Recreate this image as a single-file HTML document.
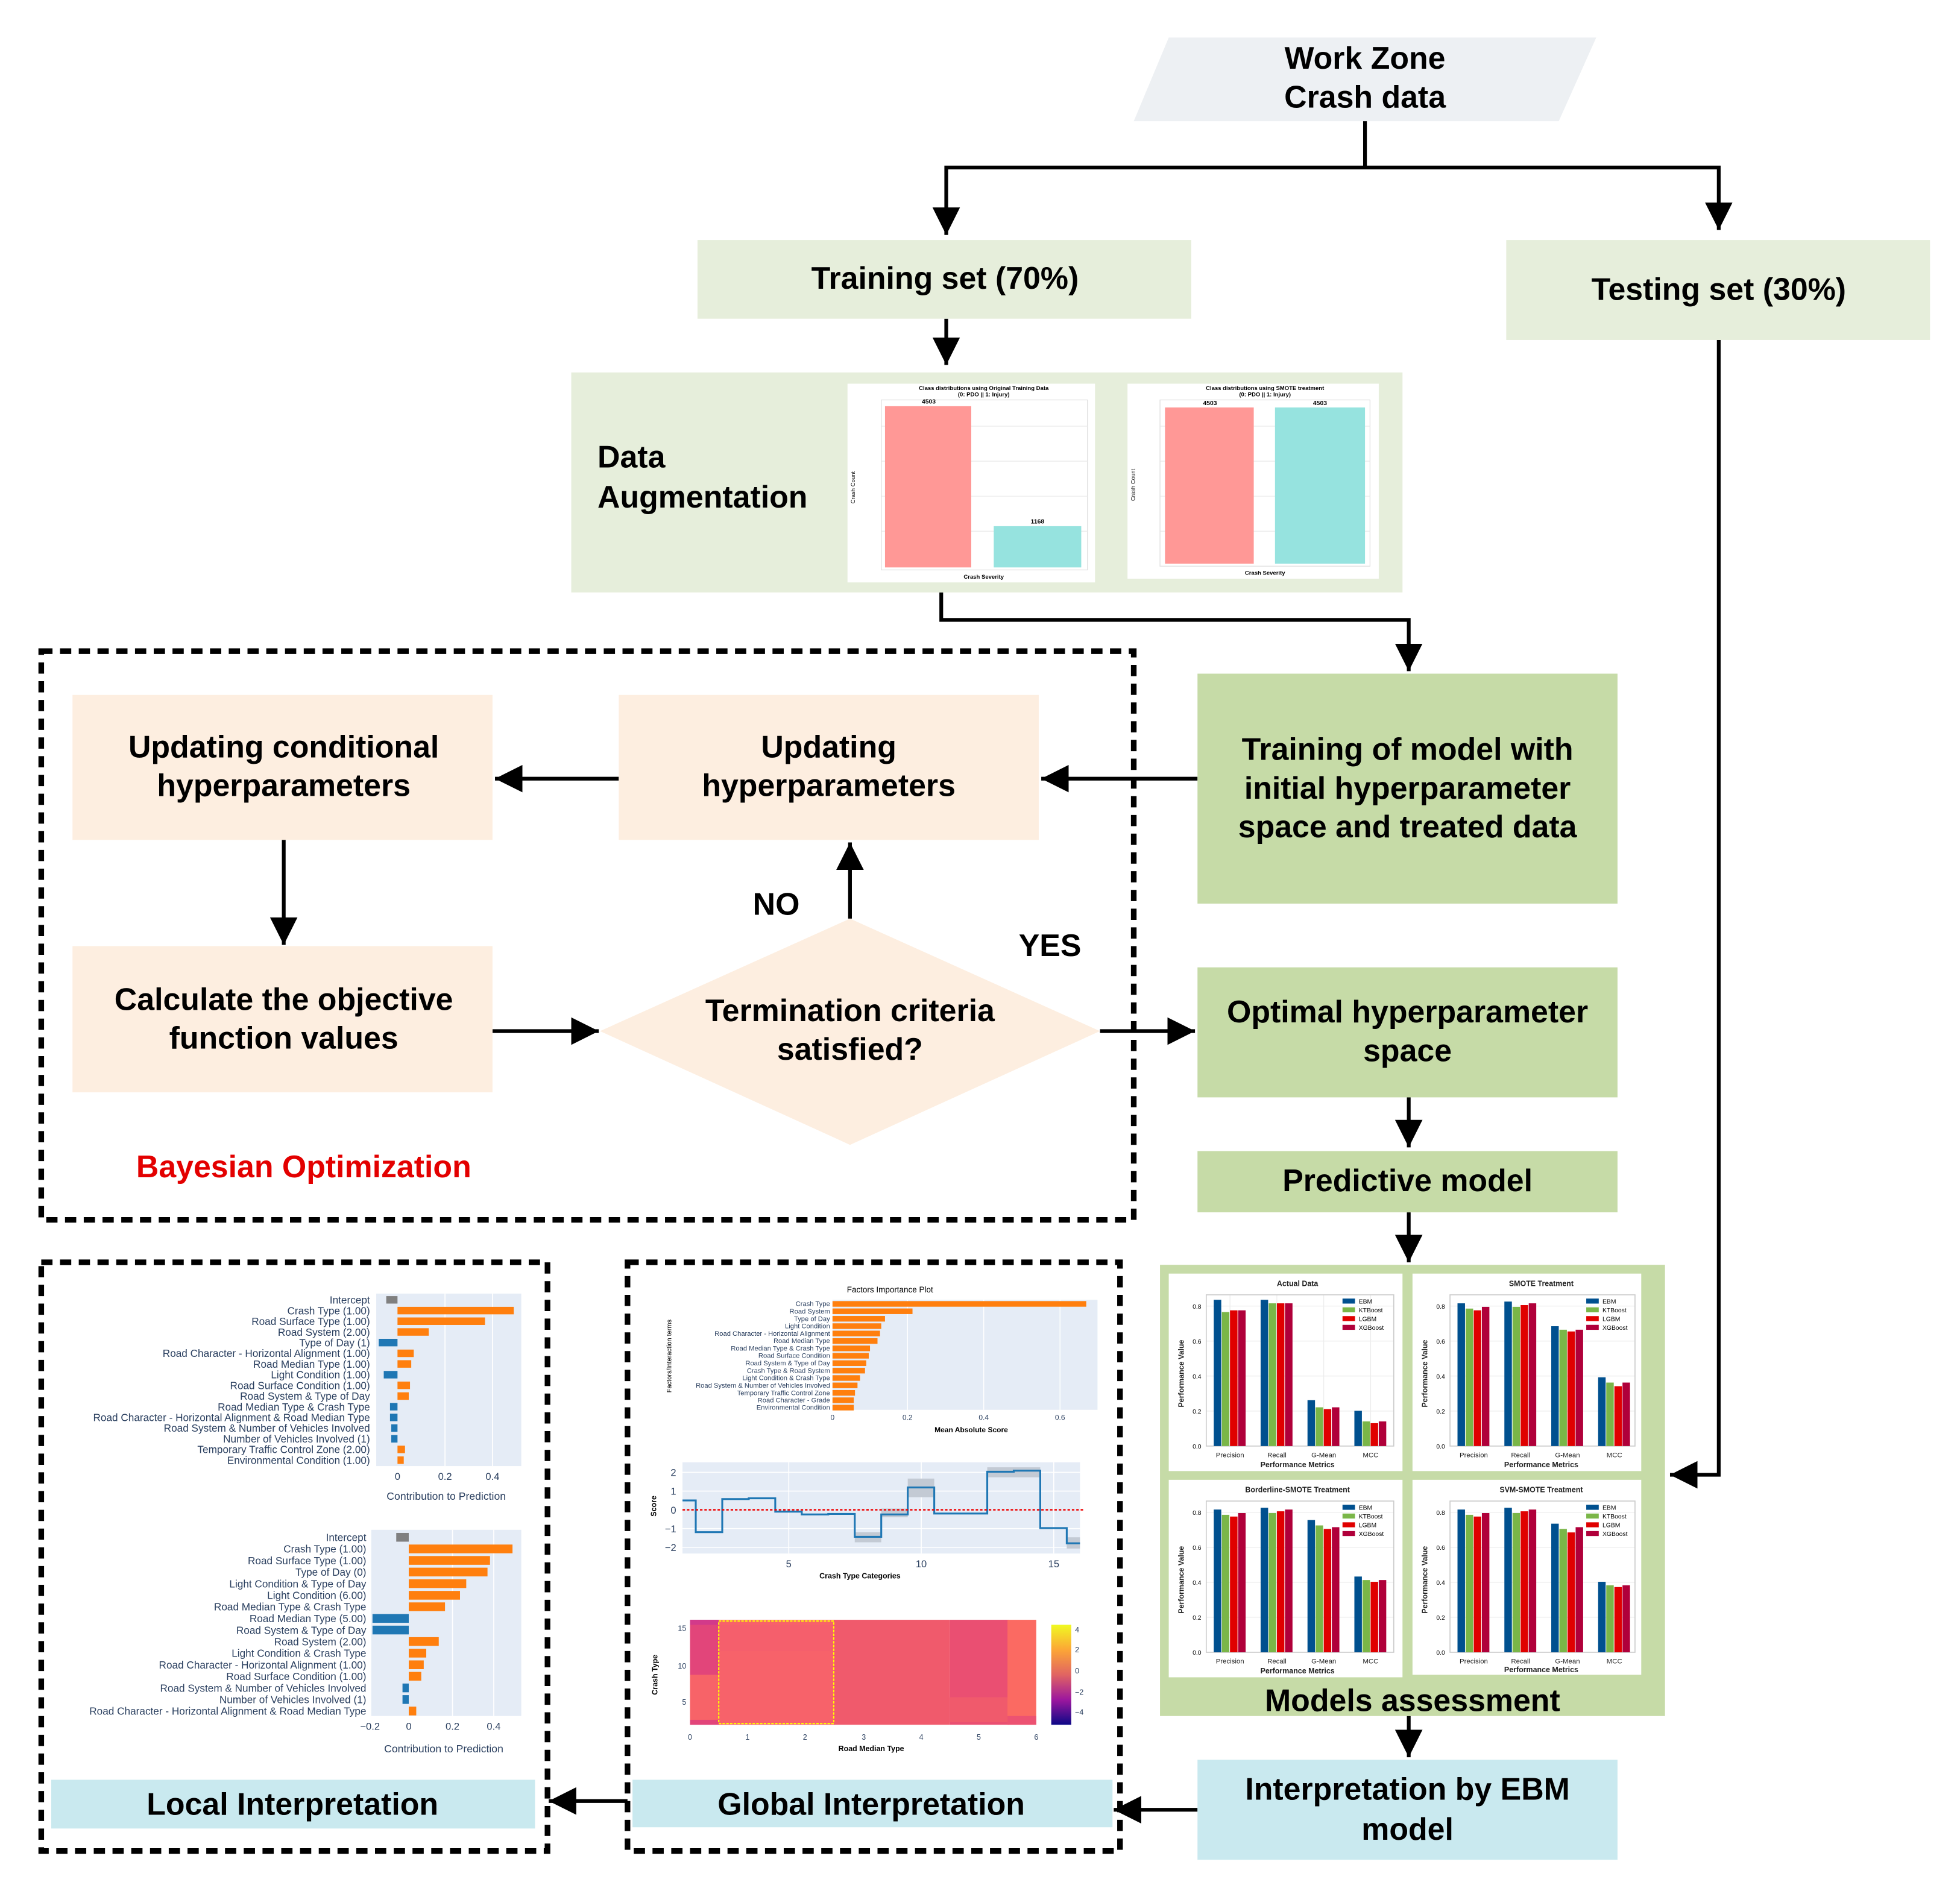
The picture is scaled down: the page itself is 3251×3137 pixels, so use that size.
<!DOCTYPE html>
<html><head><meta charset="utf-8"><style>
html,body{margin:0;padding:0;background:#fff}
svg{display:block}
text{font-family:"Liberation Sans",Arial,sans-serif}
.b{font-weight:bold;fill:#000}
.t{font-size:25px;font-weight:bold;text-anchor:middle;fill:#000}
.lb{font-size:8.3px;fill:#2a3f5f;text-anchor:end}
.gl{font-size:5.4px;fill:#2a3f5f;text-anchor:end}
.ax{font-size:8px;fill:#2a3f5f;text-anchor:middle}
.ct{font-size:5.5px;fill:#222;text-anchor:middle}
</style></head><body>
<svg width="3251" height="3137" viewBox="0 0 1568 1513" preserveAspectRatio="none" xmlns="http://www.w3.org/2000/svg">
<defs>
<marker id="ah" markerUnits="userSpaceOnUse" markerWidth="24" markerHeight="24" refX="22" refY="11" orient="auto">
<path d="M0,0 L22,11 L0,22 Z" fill="#000"/></marker>
<linearGradient id="pl" x1="0" y1="0" x2="0" y2="1">
<stop offset="0" stop-color="#f0f921"/><stop offset="0.25" stop-color="#fca636"/><stop offset="0.5" stop-color="#e16462"/><stop offset="0.75" stop-color="#9c179e"/><stop offset="1" stop-color="#0d0887"/></linearGradient>
</defs>
<rect width="1568" height="1513" fill="#fff"/>

<polygon points="935,30 1277,30 1247,97 907,97" fill="#edf0f3"/>
<text x="1092" y="55" class="t">Work Zone</text>
<text x="1092" y="86" class="t">Crash data</text>

<g stroke="#000" stroke-width="3" fill="none">
<path d="M1092,97 V134 H757 V188" marker-end="url(#ah)"/>
<path d="M1092,134 H1375 V184" marker-end="url(#ah)"/>
<path d="M757,255 V292" marker-end="url(#ah)"/>
<path d="M753,474 V496 H1127 V537" marker-end="url(#ah)"/>
<path d="M1375,272 V1180 H1336" marker-end="url(#ah)"/>
<path d="M958,623 H833" marker-end="url(#ah)"/>
<path d="M495,623 H396" marker-end="url(#ah)"/>
<path d="M227,672 V756" marker-end="url(#ah)"/>
<path d="M394,825 H479" marker-end="url(#ah)"/>
<path d="M680,735 V674" marker-end="url(#ah)"/>
<path d="M880,825 H956" marker-end="url(#ah)"/>
<path d="M1127,878 V918" marker-end="url(#ah)"/>
<path d="M1127,970 V1010" marker-end="url(#ah)"/>
<path d="M1127,1373 V1406" marker-end="url(#ah)"/>
<path d="M958,1448 H891" marker-end="url(#ah)"/>
<path d="M502,1441 H439" marker-end="url(#ah)"/>
</g>

<rect x="558" y="192" width="395" height="63" fill="#e6eedb"/>
<text x="756" y="231" class="t">Training set (70%)</text>
<rect x="1205" y="192" width="339" height="80" fill="#e6eedb"/>
<text x="1375" y="240" class="t">Testing set (30%)</text>

<rect x="457" y="298" width="665" height="176" fill="#e6eedb"/>
<text x="478" y="374" class="b" style="font-size:25px">Data</text>
<text x="478" y="406" class="b" style="font-size:25px">Augmentation</text>
<rect x="678" y="307" width="198" height="159" fill="#fff"/>
<text x="787" y="312" style="font-size:4.6px;font-weight:bold" text-anchor="middle">Class distributions using Original Training Data</text>
<text x="787" y="317" style="font-size:4.6px;font-weight:bold" text-anchor="middle">(0: PDO || 1: Injury)</text>
<rect x="705" y="320" width="165" height="136" fill="none" stroke="#ddd" stroke-width="0.6"/>
<g stroke="#e6e6e6" stroke-width="0.5"><line x1="705" y1="341" x2="870" y2="341"/><line x1="705" y1="369" x2="870" y2="369"/><line x1="705" y1="397" x2="870" y2="397"/><line x1="705" y1="425" x2="870" y2="425"/></g>
<rect x="708" y="325" width="69" height="129" fill="#ff9896"/>
<rect x="795" y="421" width="70" height="33" fill="#96e3df"/>
<text x="743" y="323" style="font-size:5px;font-weight:bold" text-anchor="middle">4503</text>
<text x="830" y="419" style="font-size:5px;font-weight:bold" text-anchor="middle">1168</text>
<text x="787" y="463" style="font-size:4.6px;font-weight:bold" text-anchor="middle">Crash Severity</text>
<text x="684" y="390" style="font-size:4.6px" transform="rotate(-90 684 390)" text-anchor="middle">Crash Count</text>

<rect x="902" y="307" width="201" height="156" fill="#fff"/>
<text x="1012" y="312" style="font-size:4.6px;font-weight:bold" text-anchor="middle">Class distributions using SMOTE treatment</text>
<text x="1012" y="317" style="font-size:4.6px;font-weight:bold" text-anchor="middle">(0: PDO || 1: Injury)</text>
<rect x="928" y="320" width="168" height="133" fill="none" stroke="#ddd" stroke-width="0.6"/>
<g stroke="#e6e6e6" stroke-width="0.5"><line x1="928" y1="341" x2="1096" y2="341"/><line x1="928" y1="369" x2="1096" y2="369"/><line x1="928" y1="397" x2="1096" y2="397"/><line x1="928" y1="425" x2="1096" y2="425"/></g>
<rect x="932" y="326" width="71" height="125" fill="#ff9896"/>
<rect x="1020" y="326" width="72" height="125" fill="#96e3df"/>
<text x="968" y="324" style="font-size:5px;font-weight:bold" text-anchor="middle">4503</text>
<text x="1056" y="324" style="font-size:5px;font-weight:bold" text-anchor="middle">4503</text>
<text x="1012" y="460" style="font-size:4.6px;font-weight:bold" text-anchor="middle">Crash Severity</text>
<text x="908" y="388" style="font-size:4.6px" transform="rotate(-90 908 388)" text-anchor="middle">Crash Count</text>

<rect x="33" y="521" width="874" height="455" fill="none" stroke="#000" stroke-width="4.5" stroke-dasharray="9,6"/>
<rect x="58" y="556" width="336" height="116" fill="#fdeee0"/>
<text x="227" y="606" class="t">Updating conditional</text>
<text x="227" y="637" class="t">hyperparameters</text>
<rect x="495" y="556" width="336" height="116" fill="#fdeee0"/>
<text x="663" y="606" class="t">Updating</text>
<text x="663" y="637" class="t">hyperparameters</text>
<rect x="58" y="757" width="336" height="117" fill="#fdeee0"/>
<text x="227" y="808" class="t">Calculate the objective</text>
<text x="227" y="839" class="t">function values</text>
<polygon points="680,735 880,825 680,916 480,825" fill="#fdeee0"/>
<text x="680" y="817" class="t">Termination criteria</text>
<text x="680" y="848" class="t">satisfied?</text>
<text x="621" y="732" class="t">NO</text>
<text x="840" y="765" class="t">YES</text>
<text x="243" y="942" class="t" style="fill:#e30000">Bayesian Optimization</text>

<rect x="958" y="539" width="336" height="184" fill="#c6dba7"/>
<text x="1126" y="608" class="t">Training of model with</text>
<text x="1126" y="639" class="t">initial hyperparameter</text>
<text x="1126" y="670" class="t">space and treated data</text>
<rect x="958" y="774" width="336" height="104" fill="#c6dba7"/>
<text x="1126" y="818" class="t">Optimal hyperparameter</text>
<text x="1126" y="849" class="t">space</text>
<rect x="958" y="921" width="336" height="49" fill="#c6dba7"/>
<text x="1126" y="953" class="t">Predictive model</text>

<rect x="928" y="1012" width="404" height="361" fill="#c6dba7"/>
<text x="1130" y="1369" class="t">Models assessment</text>

<g transform="translate(935,1019)">
<rect width="187" height="158" fill="#fff"/>
<text x="103" y="10" class="ct" style="font-weight:bold;font-size:6px">Actual Data</text>
<g stroke="#ececec" stroke-width="0.6"><line x1="30" y1="110" x2="180" y2="110"/><line x1="30" y1="82" x2="180" y2="82"/><line x1="30" y1="54" x2="180" y2="54"/><line x1="30" y1="26" x2="180" y2="26"/><line x1="49" y1="17" x2="49" y2="138"/><line x1="86.5" y1="17" x2="86.5" y2="138"/><line x1="124" y1="17" x2="124" y2="138"/><line x1="161.5" y1="17" x2="161.5" y2="138"/></g>
<rect x="30" y="17" width="150" height="121" fill="none" stroke="#ccc" stroke-width="0.8"/>
<rect x="36" y="21" width="6" height="117" fill="#00508f"/><rect x="42.5" y="30.8" width="6" height="107.2" fill="#7ab648"/><rect x="49" y="29.4" width="6" height="108.6" fill="#e00000"/><rect x="55.5" y="29.4" width="6" height="108.6" fill="#b0003a"/>
<rect x="73.5" y="21" width="6" height="117" fill="#00508f"/><rect x="80" y="23.8" width="6" height="114.2" fill="#7ab648"/><rect x="86.5" y="23.8" width="6" height="114.2" fill="#e00000"/><rect x="93" y="23.8" width="6" height="114.2" fill="#b0003a"/>
<rect x="111" y="101.3" width="6" height="36.7" fill="#00508f"/><rect x="117.5" y="107" width="6" height="31" fill="#7ab648"/><rect x="124" y="108.4" width="6" height="29.6" fill="#e00000"/><rect x="130.5" y="107" width="6" height="31" fill="#b0003a"/>
<rect x="148.5" y="109.8" width="6" height="28.2" fill="#00508f"/><rect x="155" y="118.3" width="6" height="19.7" fill="#7ab648"/><rect x="161.5" y="119.7" width="6" height="18.3" fill="#e00000"/><rect x="168" y="118.3" width="6" height="19.7" fill="#b0003a"/>
<rect x="139" y="20" width="10" height="4" fill="#00508f"/><rect x="139" y="27" width="10" height="4" fill="#7ab648"/><rect x="139" y="34" width="10" height="4" fill="#e00000"/><rect x="139" y="41" width="10" height="4" fill="#b0003a"/>
<text x="152" y="24" style="font-size:5px">EBM</text><text x="152" y="31" style="font-size:5px">KTBoost</text><text x="152" y="38" style="font-size:5px">LGBM</text><text x="152" y="45" style="font-size:5px">XGBoost</text>
<g style="font-size:5px" text-anchor="end"><text x="26" y="140">0.0</text><text x="26" y="112">0.2</text><text x="26" y="84">0.4</text><text x="26" y="56">0.6</text><text x="26" y="28">0.8</text></g>
<g class="ct"><text x="49" y="147">Precision</text><text x="86.5" y="147">Recall</text><text x="124" y="147">G-Mean</text><text x="161.5" y="147">MCC</text></g>
<text x="103" y="155" class="ct" style="font-weight:bold;font-size:6px">Performance Metrics</text>
<text x="12" y="80" class="ct" style="font-weight:bold;font-size:6px" transform="rotate(-90 12 80)">Performance Value</text>
</g>

<g transform="translate(1130,1019)">
<rect width="183" height="158" fill="#fff"/>
<text x="103" y="10" class="ct" style="font-weight:bold;font-size:6px">SMOTE Treatment</text>
<g stroke="#ececec" stroke-width="0.6"><line x1="30" y1="110" x2="178" y2="110"/><line x1="30" y1="82" x2="178" y2="82"/><line x1="30" y1="54" x2="178" y2="54"/><line x1="30" y1="26" x2="178" y2="26"/></g>
<rect x="30" y="17" width="148" height="121" fill="none" stroke="#ccc" stroke-width="0.8"/>
<rect x="36" y="23.8" width="6" height="114.2" fill="#00508f"/><rect x="42.5" y="28" width="6" height="110" fill="#7ab648"/><rect x="49" y="29.4" width="6" height="108.6" fill="#e00000"/><rect x="55.5" y="26.6" width="6" height="111.4" fill="#b0003a"/>
<rect x="73.5" y="22.4" width="6" height="115.6" fill="#00508f"/><rect x="80" y="26.6" width="6" height="111.4" fill="#7ab648"/><rect x="86.5" y="25.2" width="6" height="112.8" fill="#e00000"/><rect x="93" y="23.8" width="6" height="114.2" fill="#b0003a"/>
<rect x="111" y="42.1" width="6" height="95.9" fill="#00508f"/><rect x="117.5" y="44.9" width="6" height="93.1" fill="#7ab648"/><rect x="124" y="46.3" width="6" height="91.7" fill="#e00000"/><rect x="130.5" y="44.9" width="6" height="93.1" fill="#b0003a"/>
<rect x="148.5" y="83" width="6" height="55" fill="#00508f"/><rect x="155" y="87.2" width="6" height="50.8" fill="#7ab648"/><rect x="161.5" y="90.1" width="6" height="47.9" fill="#e00000"/><rect x="168" y="87.2" width="6" height="50.8" fill="#b0003a"/>
<rect x="139" y="20" width="10" height="4" fill="#00508f"/><rect x="139" y="27" width="10" height="4" fill="#7ab648"/><rect x="139" y="34" width="10" height="4" fill="#e00000"/><rect x="139" y="41" width="10" height="4" fill="#b0003a"/>
<text x="152" y="24" style="font-size:5px">EBM</text><text x="152" y="31" style="font-size:5px">KTBoost</text><text x="152" y="38" style="font-size:5px">LGBM</text><text x="152" y="45" style="font-size:5px">XGBoost</text>
<g style="font-size:5px" text-anchor="end"><text x="26" y="140">0.0</text><text x="26" y="112">0.2</text><text x="26" y="84">0.4</text><text x="26" y="56">0.6</text><text x="26" y="28">0.8</text></g>
<g class="ct"><text x="49" y="147">Precision</text><text x="86.5" y="147">Recall</text><text x="124" y="147">G-Mean</text><text x="161.5" y="147">MCC</text></g>
<text x="103" y="155" class="ct" style="font-weight:bold;font-size:6px">Performance Metrics</text>
<text x="12" y="80" class="ct" style="font-weight:bold;font-size:6px" transform="rotate(-90 12 80)">Performance Value</text>
</g>

<g transform="translate(935,1184)">
<rect width="187" height="158" fill="#fff"/>
<text x="103" y="10" class="ct" style="font-weight:bold;font-size:6px">Borderline-SMOTE Treatment</text>
<g stroke="#ececec" stroke-width="0.6"><line x1="30" y1="110" x2="180" y2="110"/><line x1="30" y1="82" x2="180" y2="82"/><line x1="30" y1="54" x2="180" y2="54"/><line x1="30" y1="26" x2="180" y2="26"/></g>
<rect x="30" y="17" width="150" height="121" fill="none" stroke="#ccc" stroke-width="0.8"/>
<rect x="36" y="23.8" width="6" height="114.2" fill="#00508f"/><rect x="42.5" y="28" width="6" height="110" fill="#7ab648"/><rect x="49" y="29.4" width="6" height="108.6" fill="#e00000"/><rect x="55.5" y="26.6" width="6" height="111.4" fill="#b0003a"/>
<rect x="73.5" y="22.4" width="6" height="115.6" fill="#00508f"/><rect x="80" y="26.6" width="6" height="111.4" fill="#7ab648"/><rect x="86.5" y="25.2" width="6" height="112.8" fill="#e00000"/><rect x="93" y="23.8" width="6" height="114.2" fill="#b0003a"/>
<rect x="111" y="32.2" width="6" height="105.8" fill="#00508f"/><rect x="117.5" y="36.5" width="6" height="101.5" fill="#7ab648"/><rect x="124" y="39.3" width="6" height="98.7" fill="#e00000"/><rect x="130.5" y="37.9" width="6" height="100.1" fill="#b0003a"/>
<rect x="148.5" y="77.4" width="6" height="60.6" fill="#00508f"/><rect x="155" y="80.2" width="6" height="57.8" fill="#7ab648"/><rect x="161.5" y="81.6" width="6" height="56.4" fill="#e00000"/><rect x="168" y="80.2" width="6" height="57.8" fill="#b0003a"/>
<rect x="139" y="20" width="10" height="4" fill="#00508f"/><rect x="139" y="27" width="10" height="4" fill="#7ab648"/><rect x="139" y="34" width="10" height="4" fill="#e00000"/><rect x="139" y="41" width="10" height="4" fill="#b0003a"/>
<text x="152" y="24" style="font-size:5px">EBM</text><text x="152" y="31" style="font-size:5px">KTBoost</text><text x="152" y="38" style="font-size:5px">LGBM</text><text x="152" y="45" style="font-size:5px">XGBoost</text>
<g style="font-size:5px" text-anchor="end"><text x="26" y="140">0.0</text><text x="26" y="112">0.2</text><text x="26" y="84">0.4</text><text x="26" y="56">0.6</text><text x="26" y="28">0.8</text></g>
<g class="ct"><text x="49" y="147">Precision</text><text x="86.5" y="147">Recall</text><text x="124" y="147">G-Mean</text><text x="161.5" y="147">MCC</text></g>
<text x="103" y="155" class="ct" style="font-weight:bold;font-size:6px">Performance Metrics</text>
<text x="12" y="80" class="ct" style="font-weight:bold;font-size:6px" transform="rotate(-90 12 80)">Performance Value</text>
</g>

<g transform="translate(1130,1184)">
<rect width="183" height="156" fill="#fff"/>
<text x="103" y="10" class="ct" style="font-weight:bold;font-size:6px">SVM-SMOTE Treatment</text>
<g stroke="#ececec" stroke-width="0.6"><line x1="30" y1="110" x2="178" y2="110"/><line x1="30" y1="82" x2="178" y2="82"/><line x1="30" y1="54" x2="178" y2="54"/><line x1="30" y1="26" x2="178" y2="26"/></g>
<rect x="30" y="17" width="148" height="121" fill="none" stroke="#ccc" stroke-width="0.8"/>
<rect x="36" y="23.8" width="6" height="114.2" fill="#00508f"/><rect x="42.5" y="28" width="6" height="110" fill="#7ab648"/><rect x="49" y="29.4" width="6" height="108.6" fill="#e00000"/><rect x="55.5" y="26.6" width="6" height="111.4" fill="#b0003a"/>
<rect x="73.5" y="22.4" width="6" height="115.6" fill="#00508f"/><rect x="80" y="26.6" width="6" height="111.4" fill="#7ab648"/><rect x="86.5" y="25.2" width="6" height="112.8" fill="#e00000"/><rect x="93" y="23.8" width="6" height="114.2" fill="#b0003a"/>
<rect x="111" y="35.1" width="6" height="102.9" fill="#00508f"/><rect x="117.5" y="39.3" width="6" height="98.7" fill="#7ab648"/><rect x="124" y="42.1" width="6" height="95.9" fill="#e00000"/><rect x="130.5" y="37.9" width="6" height="100.1" fill="#b0003a"/>
<rect x="148.5" y="81.6" width="6" height="56.4" fill="#00508f"/><rect x="155" y="84.4" width="6" height="53.6" fill="#7ab648"/><rect x="161.5" y="85.8" width="6" height="52.2" fill="#e00000"/><rect x="168" y="84.4" width="6" height="53.6" fill="#b0003a"/>
<rect x="139" y="20" width="10" height="4" fill="#00508f"/><rect x="139" y="27" width="10" height="4" fill="#7ab648"/><rect x="139" y="34" width="10" height="4" fill="#e00000"/><rect x="139" y="41" width="10" height="4" fill="#b0003a"/>
<text x="152" y="24" style="font-size:5px">EBM</text><text x="152" y="31" style="font-size:5px">KTBoost</text><text x="152" y="38" style="font-size:5px">LGBM</text><text x="152" y="45" style="font-size:5px">XGBoost</text>
<g style="font-size:5px" text-anchor="end"><text x="26" y="140">0.0</text><text x="26" y="112">0.2</text><text x="26" y="84">0.4</text><text x="26" y="56">0.6</text><text x="26" y="28">0.8</text></g>
<g class="ct"><text x="49" y="147">Precision</text><text x="86.5" y="147">Recall</text><text x="124" y="147">G-Mean</text><text x="161.5" y="147">MCC</text></g>
<text x="103" y="154" class="ct" style="font-weight:bold;font-size:6px">Performance Metrics</text>
<text x="12" y="80" class="ct" style="font-weight:bold;font-size:6px" transform="rotate(-90 12 80)">Performance Value</text>
</g>

<rect x="958" y="1408" width="336" height="80" fill="#c9e9ef"/>
<text x="1126" y="1440" class="t">Interpretation by EBM</text>
<text x="1126" y="1472" class="t">model</text>

<rect x="33" y="1010" width="405" height="471" fill="none" stroke="#000" stroke-width="4.5" stroke-dasharray="9,6"/>
<rect x="41" y="1424" width="387" height="39" fill="#c9e9ef"/>
<text x="234" y="1452" class="t">Local Interpretation</text>

<rect x="301" y="1035" width="116" height="138" fill="#e5ecf6"/>
<g stroke="#fff" stroke-width="0.8"><line x1="356" y1="1035" x2="356" y2="1173"/><line x1="394" y1="1035" x2="394" y2="1173"/></g>
<g fill="#ff7f0e">
<rect x="318" y="1045.6" width="93" height="6"/><rect x="318" y="1054.1" width="70" height="6"/><rect x="318" y="1062.7" width="25" height="6"/>
<rect x="318" y="1079.8" width="13" height="6"/><rect x="318" y="1088.3" width="11" height="6"/><rect x="318" y="1105.4" width="10" height="6"/><rect x="318" y="1114" width="9" height="6"/>
<rect x="318" y="1156.7" width="6" height="6"/><rect x="318" y="1165.3" width="5" height="6"/></g>
<g fill="#1f77b4">
<rect x="303" y="1071.2" width="15" height="6"/><rect x="307" y="1096.9" width="11" height="6"/><rect x="312" y="1122.5" width="6" height="6"/><rect x="312" y="1131.1" width="6" height="6"/><rect x="313" y="1139.6" width="5" height="6"/><rect x="313" y="1148.2" width="5" height="6"/></g>
<rect x="309" y="1037" width="9" height="6" fill="#808080"/>
<g class="lb">
<text x="296" y="1043">Intercept</text><text x="296" y="1051.6">Crash Type (1.00)</text><text x="296" y="1060.1">Road Surface Type (1.00)</text><text x="296" y="1068.7">Road System (2.00)</text><text x="296" y="1077.2">Type of Day (1)</text><text x="296" y="1085.8">Road Character - Horizontal Alignment (1.00)</text><text x="296" y="1094.3">Road Median Type (1.00)</text><text x="296" y="1102.9">Light Condition (1.00)</text><text x="296" y="1111.4">Road Surface Condition (1.00)</text><text x="296" y="1120">Road System &amp; Type of Day</text><text x="296" y="1128.5">Road Median Type &amp; Crash Type</text><text x="296" y="1137.1">Road Character - Horizontal Alignment &amp; Road Median Type</text><text x="296" y="1145.6">Road System &amp; Number of Vehicles Involved</text><text x="296" y="1154.2">Number of Vehicles Involved (1)</text><text x="296" y="1162.7">Temporary Traffic Control Zone (2.00)</text><text x="296" y="1171.3">Environmental Condition (1.00)</text></g>
<g class="ax"><text x="318" y="1184">0</text><text x="356" y="1184">0.2</text><text x="394" y="1184">0.4</text></g>
<text x="357" y="1200" class="ax" style="font-size:8.5px">Contribution to Prediction</text>

<rect x="297" y="1224" width="120" height="149" fill="#e5ecf6"/>
<g stroke="#fff" stroke-width="0.8"><line x1="362" y1="1224" x2="362" y2="1373"/><line x1="395" y1="1224" x2="395" y2="1373"/></g>
<g fill="#ff7f0e">
<rect x="327" y="1235.8" width="83" height="7"/><rect x="327" y="1245" width="65" height="7"/><rect x="327" y="1254.3" width="63" height="7"/><rect x="327" y="1263.6" width="46" height="7"/><rect x="327" y="1272.9" width="41" height="7"/><rect x="327" y="1282.1" width="29" height="7"/>
<rect x="327" y="1309.9" width="24" height="7"/><rect x="327" y="1319.2" width="14" height="7"/><rect x="327" y="1328.5" width="12" height="7"/><rect x="327" y="1337.7" width="10" height="7"/><rect x="327" y="1365.5" width="6" height="7"/></g>
<g fill="#1f77b4"><rect x="298" y="1291.4" width="29" height="7"/><rect x="298" y="1300.7" width="29" height="7"/><rect x="322" y="1347" width="5" height="7"/><rect x="322" y="1356.3" width="5" height="7"/></g>
<rect x="317" y="1226.5" width="10" height="7" fill="#808080"/>
<g class="lb">
<text x="293" y="1233">Intercept</text><text x="293" y="1242.3">Crash Type (1.00)</text><text x="293" y="1251.5">Road Surface Type (1.00)</text><text x="293" y="1260.8">Type of Day (0)</text><text x="293" y="1270.1">Light Condition &amp; Type of Day</text><text x="293" y="1279.4">Light Condition (6.00)</text><text x="293" y="1288.6">Road Median Type &amp; Crash Type</text><text x="293" y="1297.9">Road Median Type (5.00)</text><text x="293" y="1307.2">Road System &amp; Type of Day</text><text x="293" y="1316.4">Road System (2.00)</text><text x="293" y="1325.7">Light Condition &amp; Crash Type</text><text x="293" y="1335">Road Character - Horizontal Alignment (1.00)</text><text x="293" y="1344.2">Road Surface Condition (1.00)</text><text x="293" y="1353.5">Road System &amp; Number of Vehicles Involved</text><text x="293" y="1362.8">Number of Vehicles Involved (1)</text><text x="293" y="1372">Road Character - Horizontal Alignment &amp; Road Median Type</text></g>
<g class="ax"><text x="296" y="1384">−0.2</text><text x="327" y="1384">0</text><text x="362" y="1384">0.2</text><text x="395" y="1384">0.4</text></g>
<text x="355" y="1402" class="ax" style="font-size:8.5px">Contribution to Prediction</text>

<rect x="502" y="1010" width="394" height="471" fill="none" stroke="#000" stroke-width="4.5" stroke-dasharray="9,6"/>
<rect x="506" y="1424" width="384" height="38" fill="#c9e9ef"/>
<text x="697" y="1452" class="t">Global Interpretation</text>

<text x="712" y="1034" style="font-size:6.5px" text-anchor="middle">Factors Importance Plot</text>
<rect x="666" y="1040" width="212" height="88" fill="#e5ecf6"/>
<g stroke="#fff" stroke-width="0.7"><line x1="726" y1="1040" x2="726" y2="1128"/><line x1="787" y1="1040" x2="787" y2="1128"/><line x1="848" y1="1040" x2="848" y2="1128"/></g>
<g fill="#ff7f0e">
<rect x="666" y="1041" width="203" height="4.5"/><rect x="666" y="1046.9" width="64" height="4.5"/><rect x="666" y="1052.9" width="42" height="4.5"/><rect x="666" y="1058.8" width="39" height="4.5"/><rect x="666" y="1064.7" width="38" height="4.5"/><rect x="666" y="1070.7" width="36" height="4.5"/><rect x="666" y="1076.6" width="30" height="4.5"/><rect x="666" y="1082.5" width="29" height="4.5"/><rect x="666" y="1088.4" width="27" height="4.5"/><rect x="666" y="1094.4" width="26" height="4.5"/><rect x="666" y="1100.3" width="22" height="4.5"/><rect x="666" y="1106.2" width="20" height="4.5"/><rect x="666" y="1112.2" width="18" height="4.5"/><rect x="666" y="1118.1" width="17" height="4.5"/><rect x="666" y="1124" width="17" height="4.5"/></g>
<g class="gl">
<text x="664" y="1045">Crash Type</text><text x="664" y="1050.9">Road System</text><text x="664" y="1056.9">Type of Day</text><text x="664" y="1062.8">Light Condition</text><text x="664" y="1068.7">Road Character - Horizontal Alignment</text><text x="664" y="1074.7">Road Median Type</text><text x="664" y="1080.6">Road Median Type &amp; Crash Type</text><text x="664" y="1086.5">Road Surface Condition</text><text x="664" y="1092.4">Road System &amp; Type of Day</text><text x="664" y="1098.4">Crash Type &amp; Road System</text><text x="664" y="1104.3">Light Condition &amp; Crash Type</text><text x="664" y="1110.2">Road System &amp; Number of Vehicles Involved</text><text x="664" y="1116.2">Temporary Traffic Control Zone</text><text x="664" y="1122.1">Road Character - Grade</text><text x="664" y="1128">Environmental Condition</text></g>
<g class="ax" style="font-size:5.8px"><text x="666" y="1136">0</text><text x="726" y="1136">0.2</text><text x="787" y="1136">0.4</text><text x="848" y="1136">0.6</text></g>
<text x="777" y="1146" style="font-size:5.8px;font-weight:bold" text-anchor="middle">Mean Absolute Score</text>
<text x="537" y="1085" style="font-size:5.3px" text-anchor="middle" transform="rotate(-90 537 1085)">Factors/Interaction terms</text>

<rect x="546" y="1170" width="318" height="73" fill="#e5ecf6"/>
<g stroke="#fff" stroke-width="0.8"><line x1="631" y1="1170" x2="631" y2="1243"/><line x1="737" y1="1170" x2="737" y2="1243"/><line x1="843" y1="1170" x2="843" y2="1243"/><line x1="546" y1="1178" x2="864" y2="1178"/><line x1="546" y1="1193" x2="864" y2="1193"/><line x1="546" y1="1223" x2="864" y2="1223"/><line x1="546" y1="1238" x2="864" y2="1238"/></g>
<g fill="#c3cad4"><rect x="683.8" y="1226" width="21.2" height="8"/><rect x="705" y="1207" width="21.2" height="7"/><rect x="726.2" y="1183" width="21.2" height="15"/><rect x="789.8" y="1174" width="42.4" height="8"/><rect x="853.4" y="1230" width="10.6" height="9"/></g>
<path d="M546,1200.5 H556.6 V1225.9 H577.8 V1199.4 H599 V1198.8 H620.2 V1209.5 H641.4 V1211.7 H662.6 V1211.3 H683.8 V1229.6 H705 V1211.7 H726.2 V1190.1 H747.4 V1211 H789.8 V1177.5 H811 V1176.7 H832.2 V1222.6 H853.4 V1234.8 H864" fill="none" stroke="#1f77b4" stroke-width="1.5"/>
<line x1="546" y1="1208" x2="868" y2="1208" stroke="#e00" stroke-width="1.2" stroke-dasharray="2,1.5"/>
<g style="font-size:8px;fill:#2a3f5f" text-anchor="end"><text x="541" y="1181">2</text><text x="541" y="1196">1</text><text x="541" y="1211">0</text><text x="541" y="1226">−1</text><text x="541" y="1241">−2</text></g>
<g class="ax"><text x="631" y="1254">5</text><text x="737" y="1254">10</text><text x="843" y="1254">15</text></g>
<text x="688" y="1263" style="font-size:6px;font-weight:bold" text-anchor="middle">Crash Type Categories</text>
<text x="525" y="1205" style="font-size:6px;font-weight:bold" text-anchor="middle" transform="rotate(-90 525 1205)">Score</text>

<rect x="552" y="1296" width="24" height="84" fill="#e2457a"/>
<rect x="552" y="1296" width="24" height="4" fill="#d23a8a"/>
<rect x="552" y="1340" width="24" height="37" fill="#f76368"/>
<rect x="552" y="1376" width="24" height="4" fill="#e2457a"/>
<rect x="575" y="1296" width="93" height="84" fill="#f7626a"/>
<rect x="575" y="1300" width="93" height="21" fill="#f55f6c"/>
<rect x="667" y="1296" width="93" height="84" fill="#f05a6c"/>
<rect x="760" y="1296" width="47" height="84" fill="#ea4f72"/>
<rect x="760" y="1358" width="47" height="20" fill="#f05a6c"/>
<rect x="806" y="1296" width="23" height="84" fill="#fb6a62"/>
<rect x="806" y="1373" width="23" height="7" fill="#ec5272"/>
<rect x="575" y="1297" width="92" height="82" fill="none" stroke="#ffff00" stroke-width="1" stroke-dasharray="2,1"/>
<rect x="841" y="1300" width="16" height="80" fill="url(#pl)"/>
<g style="font-size:6px;fill:#2a3f5f"><text x="860" y="1306">4</text><text x="860" y="1322">2</text><text x="860" y="1339">0</text><text x="860" y="1356">−2</text><text x="860" y="1372">−4</text></g>
<g style="font-size:6px;fill:#2a3f5f" text-anchor="end"><text x="549" y="1305">15</text><text x="549" y="1335">10</text><text x="549" y="1364">5</text></g>
<g style="font-size:6px;fill:#2a3f5f" text-anchor="middle"><text x="552" y="1392">0</text><text x="598" y="1392">1</text><text x="644" y="1392">2</text><text x="691" y="1392">3</text><text x="737" y="1392">4</text><text x="783" y="1392">5</text><text x="829" y="1392">6</text></g>
<text x="697" y="1401" style="font-size:6px;font-weight:bold" text-anchor="middle">Road Median Type</text>
<text x="526" y="1340" style="font-size:6px;font-weight:bold" text-anchor="middle" transform="rotate(-90 526 1340)">Crash Type</text>
</svg>
</body></html>
